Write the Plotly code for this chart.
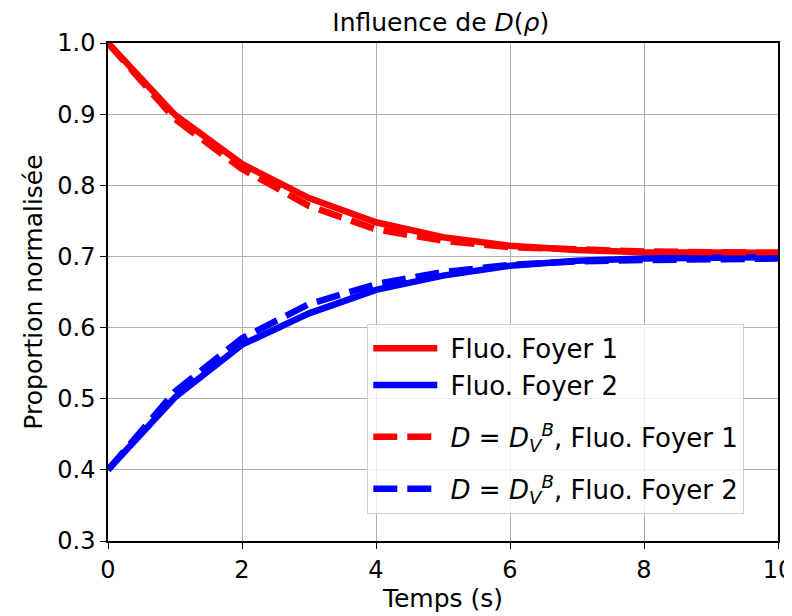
import plotly.graph_objects as go

temps = [0, 1, 2, 3, 4, 5, 6, 7, 8, 9, 10]
foyer1 = [1.0, 0.899, 0.830, 0.782, 0.748, 0.727, 0.715, 0.709, 0.706, 0.705, 0.705]
foyer2 = [0.4, 0.502, 0.576, 0.620, 0.653, 0.673, 0.687, 0.694, 0.697, 0.698, 0.699]
foyer1_dv = [1.0, 0.893, 0.823, 0.771, 0.738, 0.722, 0.713, 0.709, 0.707, 0.706, 0.705]
foyer2_dv = [0.4, 0.510, 0.585, 0.633, 0.661, 0.678, 0.688, 0.693, 0.695, 0.696, 0.697]

dv = "\u00a0<i>D</i> = <i>D</i><sub><i>V</i></sub><sup><i>B</i></sup>"
fs = 26

fig = go.Figure()
fig.add_trace(go.Scatter(x=temps, y=foyer1, mode="lines", name="\u00a0Fluo. Foyer 1",
                         legendgroup="a", line=dict(color="#ff0000", width=6.5)))
fig.add_trace(go.Scatter(x=temps, y=foyer2, mode="lines", name="\u00a0Fluo. Foyer 2",
                         legendgroup="a", line=dict(color="#0000ff", width=6.5)))
fig.add_trace(go.Scatter(x=temps, y=foyer1_dv, mode="lines", name=dv + ", Fluo. Foyer 1",
                         legendgroup="b", line=dict(color="#ff0000", width=6.5, dash="24px,10px")))
fig.add_trace(go.Scatter(x=temps, y=foyer2_dv, mode="lines", name=dv + ", Fluo. Foyer 2",
                         legendgroup="c", line=dict(color="#0000ff", width=6.5, dash="24px,10px")))

axis_style = dict(
    showgrid=True, gridcolor="#b0b0b0", gridwidth=1,
    showline=True, linecolor="black", linewidth=1.5, mirror=True,
    ticks="outside", ticklen=6, tickcolor="black",
    tickfont=dict(size=24, color="black"),
    zeroline=False, automargin=False, ticklabeloverflow="allow",
)

fig.update_xaxes(range=[0, 10], dtick=2,
                 title=dict(text="Temps (s)", font=dict(size=25), standoff=0),
                 **axis_style)
fig.update_yaxes(range=[0.3, 1.0], dtick=0.1, tickformat=".1f",
                 title=dict(text="Proportion normalisée", font=dict(size=25), standoff=8),
                 **axis_style)

# page body adds an 8px offset, so the figure is a little smaller than the window
fig.update_layout(
    width=784, height=608,
    margin=dict(l=100, r=14, t=35, b=75),
    paper_bgcolor="white", plot_bgcolor="white",
    font=dict(family="DejaVu Sans", color="black"),
    title=dict(text="Influence de <i>D</i>(<i>ρ</i>)", x=0.552, xanchor="center",
               y=0.976, yanchor="middle", font=dict(size=25)),
    legend=dict(x=0.387, y=0.436, xanchor="left", yanchor="top",
                bgcolor="rgba(255,255,255,0.8)", bordercolor="#d0d0d0", borderwidth=1,
                font=dict(size=fs), itemwidth=64, tracegroupgap=15,
                entrywidth=346, entrywidthmode="pixels"),
    showlegend=True,
)

fig.write_html("out.html")
